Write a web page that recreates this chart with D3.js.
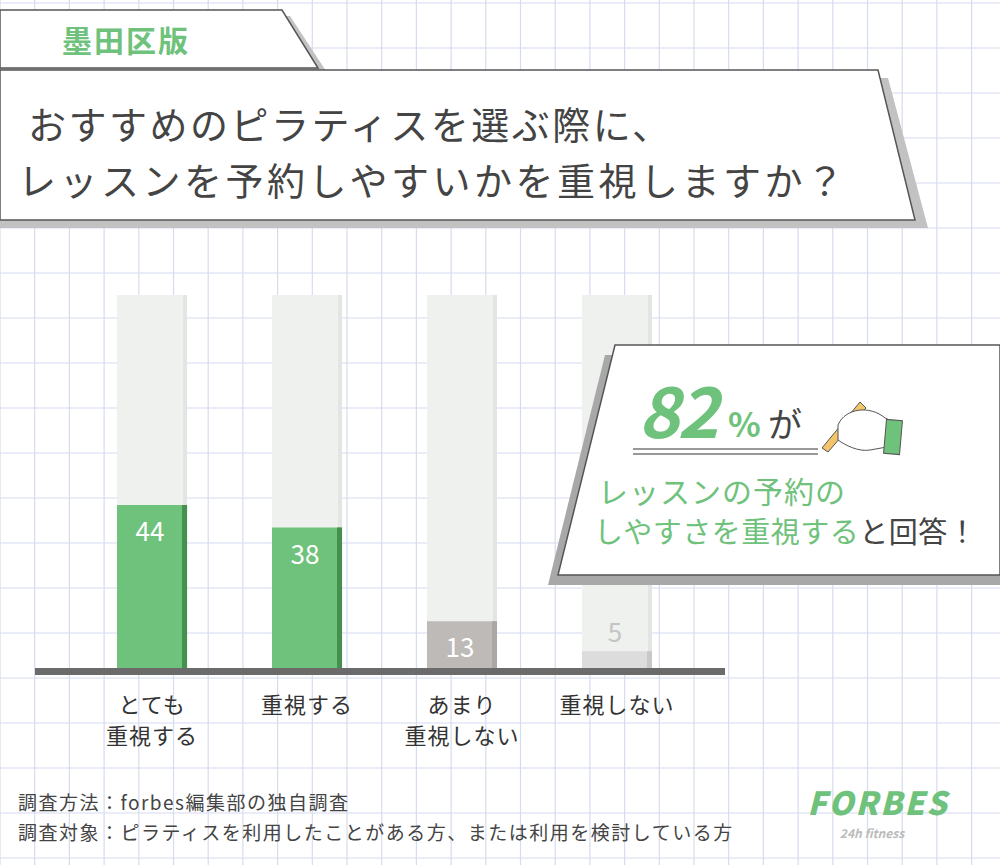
<!DOCTYPE html>
<html>
<head>
<meta charset="utf-8">
<script src="https://cdn.jsdelivr.net/npm/d3@7"></script>
<style>
body{margin:0;background:#fff;}
text{font-family:"Noto Sans CJK JP","Noto Sans",sans-serif;}
</style>
</head>
<body>
<div id="chart"></div>
<script>
var categories = ["とても\n重視する", "重視する", "あまり\n重視しない", "重視しない"];
var values = [44, 38, 13, 5];
var barColors = ["#6fc27c", "#6fc27c", "#bdbab8", "#dcdcdc"];
var edgeColors = ["#46904f", "#46904f", "#aaa7a5", "#c8c8c8"];
var labelColors = ["#fff", "#fff", "#fff", "#c4c4c4"];

var w = 1000, h = 865;
var svg = d3.select("#chart").append("svg").attr("width", w).attr("height", h);

// grid paper
var grid = svg.append("g");
d3.range(0, w, 34.7).forEach(function(x) {
  grid.append("line").attr("x1", x).attr("x2", x).attr("y1", 0).attr("y2", h)
    .attr("stroke", "#d6dcef").attr("stroke-width", 1.2);
});
d3.range(3, h, 45).forEach(function(y) {
  grid.append("line").attr("y1", y).attr("y2", y).attr("x1", 0).attr("x2", w)
    .attr("stroke", "#d6dcef").attr("stroke-width", 1.2);
});

// chart
var x = d3.scaleBand().domain(categories).range([117, 652]).paddingInner(0.548).paddingOuter(0);
var y = d3.scaleLinear().domain([0, 100]).range([670, 295]);

var g = svg.append("g");
categories.forEach(function(c, i) {
  var x0 = x(c), bw = x.bandwidth();
  g.append("rect").attr("x", x0).attr("y", y(100)).attr("width", bw).attr("height", y(0) - y(100)).attr("fill", "#eff1ee");
  g.append("rect").attr("x", x0 + bw - 4).attr("y", y(100)).attr("width", 4).attr("height", y(0) - y(100)).attr("fill", "#e3e5e3");
  g.append("rect").attr("x", x0).attr("y", y(values[i])).attr("width", bw).attr("height", y(0) - y(values[i])).attr("fill", barColors[i]);
  g.append("rect").attr("x", x0 + bw - 5).attr("y", y(values[i])).attr("width", 5).attr("height", y(0) - y(values[i])).attr("fill", edgeColors[i]);
  var ly = values[i] > 10 ? y(values[i]) + 36 : y(values[i]) - 9;
  g.append("text").attr("x", x0 + bw / 2 - 2).attr("y", ly).attr("text-anchor", "middle")
    .attr("font-size", 26).attr("font-family", "Roboto Condensed, Roboto, sans-serif")
    .attr("fill", labelColors[i]).text(values[i]);
  var lines = c.split("\n");
  lines.forEach(function(t, k) {
    g.append("text").attr("x", x0 + bw / 2).attr("y", 713 + k * 31).attr("text-anchor", "middle")
      .attr("font-size", 22).attr("fill", "#333").attr("letter-spacing", 1).text(t);
  });
});
g.append("rect").attr("x", 35).attr("y", 668).attr("width", 690).attr("height", 7).attr("fill", "#6b6b6b");

// tag box
svg.append("path").attr("d", "M0,16 L290,16 L328,74 L0,74Z").attr("fill", "#c2c2c2");
svg.append("path").attr("d", "M0,10 L282,10 L318,68 L0,68Z").attr("fill", "#fff").attr("stroke", "#555").attr("stroke-width", 1.5);
svg.append("text").attr("x", 62).attr("y", 52).attr("font-size", 30).attr("font-weight", 700)
  .attr("fill", "#6fc27c").attr("letter-spacing", 2).text("墨田区版");

// title box
svg.append("path").attr("d", "M0,78 L888,78 L928,228 L0,228Z").attr("fill", "#c2c2c2");
svg.append("path").attr("d", "M0,70 L878,70 L915,220 L0,220Z").attr("fill", "#fff").attr("stroke", "#555").attr("stroke-width", 1.5);
svg.append("text").attr("x", 28).attr("y", 139).attr("font-size", 38).attr("fill", "#444").attr("letter-spacing", 2.5).text("おすすめのピラティスを選ぶ際に、");
svg.append("text").attr("x", 18).attr("y", 195).attr("font-size", 38).attr("fill", "#444").attr("letter-spacing", 3.5).text("レッスンを予約しやすいかを重視しますか？");

// callout
svg.append("path").attr("d", "M605,355 L1000,355 L1000,585 L548,585Z").attr("fill", "#a8a8a8");
svg.append("path").attr("d", "M615,345 L1000,345 L1000,575 L558,575Z").attr("fill", "#fff").attr("stroke", "#555").attr("stroke-width", 1.5);
svg.append("text").attr("x", 638).attr("y", 438).attr("font-size", 70).attr("font-weight", 700).attr("font-style", "italic")
  .attr("fill", "#6fc27c").attr("font-family", "Roboto, sans-serif").attr("letter-spacing", -2).text("82");
svg.append("text").attr("x", 728).attr("y", 437).attr("font-size", 34).attr("font-weight", 700)
  .attr("fill", "#6fc27c").text("%");
svg.append("text").attr("x", 768).attr("y", 437).attr("font-size", 34).attr("fill", "#444").text("が");
svg.append("line").attr("x1", 633).attr("x2", 818).attr("y1", 449).attr("y2", 449).attr("stroke", "#777").attr("stroke-width", 1.5);
svg.append("line").attr("x1", 633).attr("x2", 818).attr("y1", 454).attr("y2", 454).attr("stroke", "#777").attr("stroke-width", 1.5);
// pencil + hand
var pen = svg.append("g");
pen.append("path").attr("d", "M822,448 L860,402 L866,408 L828,452Z").attr("fill", "#f4c46a").attr("stroke", "#555");
pen.append("path").attr("d", "M838,425 C845,408 870,405 885,418 L900,425 L898,445 L870,450 C858,452 845,445 838,440Z").attr("fill", "#fff").attr("stroke", "#555");
pen.append("rect").attr("x", 885).attr("y", 420).attr("width", 16).attr("height", 34).attr("fill", "#6fc27c").attr("stroke", "#555").attr("transform", "rotate(5,893,437)");
svg.append("text").attr("x", 598).attr("y", 503).attr("font-size", 30).attr("fill", "#6fc27c").attr("letter-spacing", 1).text("レッスンの予約の");
var t2 = svg.append("text").attr("x", 594).attr("y", 543).attr("font-size", 29).attr("letter-spacing", 0.5);
t2.append("tspan").attr("fill", "#6fc27c").text("しやすさを重視する");
t2.append("tspan").attr("fill", "#444").text("と回答！");

// notes
svg.append("text").attr("x", 18).attr("y", 810).attr("font-size", 19).attr("fill", "#444").attr("letter-spacing", 1.5).text("調査方法：forbes編集部の独自調査");
svg.append("text").attr("x", 18).attr("y", 840).attr("font-size", 19).attr("fill", "#444").attr("letter-spacing", 1.5).text("調査対象：ピラティスを利用したことがある方、または利用を検討している方");

// logo
svg.append("text").attr("x", 878).attr("y", 815).attr("text-anchor", "middle").attr("font-size", 32).attr("font-weight", 900)
  .attr("font-style", "italic").attr("fill", "#6fc27c").attr("font-family", "Roboto, sans-serif").attr("letter-spacing", 2).text("FORBES");
svg.append("text").attr("x", 872).attr("y", 838).attr("text-anchor", "middle").attr("font-size", 12).attr("font-weight", 700)
  .attr("font-style", "italic").attr("fill", "#bbb").attr("font-family", "Roboto, sans-serif").text("24h fitness");
</script>
</body>
</html>
